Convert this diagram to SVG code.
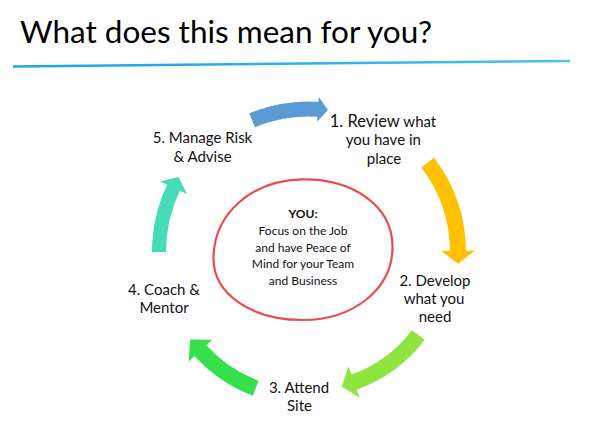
<svg xmlns="http://www.w3.org/2000/svg" width="596" height="440" viewBox="0 0 596 440">
<defs>
<style>
.lbl{font-family:Lato,"Open Sans","Liberation Sans",sans-serif;font-size:15px;fill:#111;text-anchor:middle}
.ctr{font-family:Lato,"Open Sans","Liberation Sans",sans-serif;font-size:12px;fill:#111;text-anchor:middle}
.arr{stroke:none}
</style>
<linearGradient id="lineGrad" x1="0" y1="0" x2="1" y2="0">
<stop offset="0" stop-color="#1AA6E8"/>
<stop offset="0.6" stop-color="#2DB3EE"/>
<stop offset="1" stop-color="#4CC2F2"/>
</linearGradient>
</defs>
<rect width="596" height="440" fill="#fff"/>
<g id="title">
<text x="20" y="43" font-family="Lato,'Open Sans','Liberation Sans',sans-serif" font-size="30" fill="#000" textLength="412" lengthAdjust="spacingAndGlyphs">What does this mean for you?</text>
<path d="M13,66.5 L570,61" stroke="url(#lineGrad)" stroke-width="2.5" fill="none"/>
</g>
<g id="connectors">
<path class="arr" fill="#5B9BD5" d="M249.2,113.46 A150.5,150.5 0 0 1 318.5,101.87 L318.85,96.88 L327.96,110.05 L317.1,121.82 L317.45,116.83 A135.5,135.5 0 0 0 255.06,127.27 Z"/>
<path class="arr" fill="#FFC000" d="M433.97,157.64 A155,155 0 0 1 465.99,250.65 L474.99,250.57 L458.1,263.72 L440.99,250.87 L449.99,250.79 A139,139 0 0 0 421.28,167.38 Z"/>
<path class="arr" fill="#8EE53F" d="M424.6,339.87 A146,146 0 0 1 356.74,389.63 L359.57,397.64 L341.81,386.42 L348.56,366.53 L351.4,374.54 A130,130 0 0 0 411.82,330.24 Z"/>
<path class="arr" fill="#35E04B" d="M252.81,395.77 A154,154 0 0 1 194.46,356.04 L188.56,361.45 L190.23,339.58 L212.15,339.83 L206.26,345.23 A138,138 0 0 0 258.55,380.83 Z"/>
<path class="arr" fill="#45DDB8" d="M152,252 A156,156 0 0 1 167.2,184.84 L159.98,181.4 L178.68,177.02 L187.05,194.31 L179.83,190.87 A142,142 0 0 0 166,252 Z"/>
</g>
<g id="node-review">
<text class="lbl" x="383" y="126.5"><tspan font-size="16.5">1. Review</tspan> what</text>
<text class="lbl" x="383.3" y="145">you have in</text>
<text class="lbl" x="384" y="163.5">place</text>
</g>
<g id="node-develop">
<text class="lbl" x="435" y="285.5">2. Develop</text>
<text class="lbl" x="434" y="303.5">what you</text>
<text class="lbl" x="435" y="321.5">need</text>
</g>
<g id="node-attend">
<text class="lbl" x="299" y="392.7">3. Attend</text>
<text class="lbl" x="299.5" y="410.7">Site</text>
</g>
<g id="node-coach">
<text class="lbl" x="164" y="295">4. Coach &amp;</text>
<text class="lbl" x="164" y="313.3">Mentor</text>
</g>
<g id="node-manage">
<text class="lbl" x="202.5" y="143.3">5. Manage Risk</text>
<text class="lbl" x="202.5" y="161.7">&amp; Advise</text>
</g>
<g id="node-you">
<path d="M300,179.5 C352,178 392,205 392.5,246 C393,290 352,320 303,320 C250,320 213,293 213.5,258 C214,213 252,180.5 302,179.3" fill="none" stroke="#EE4A4A" stroke-width="2.2" stroke-linecap="round"/>
<text class="ctr" x="303" y="217.7" font-weight="bold">YOU:</text>
<text class="ctr" x="303" y="235">Focus on the Job</text>
<text class="ctr" x="303" y="251.7">and have Peace of</text>
<text class="ctr" x="303" y="268.3">Mind for your Team</text>
<text class="ctr" x="303" y="285">and Business</text>
</g>
</svg>
